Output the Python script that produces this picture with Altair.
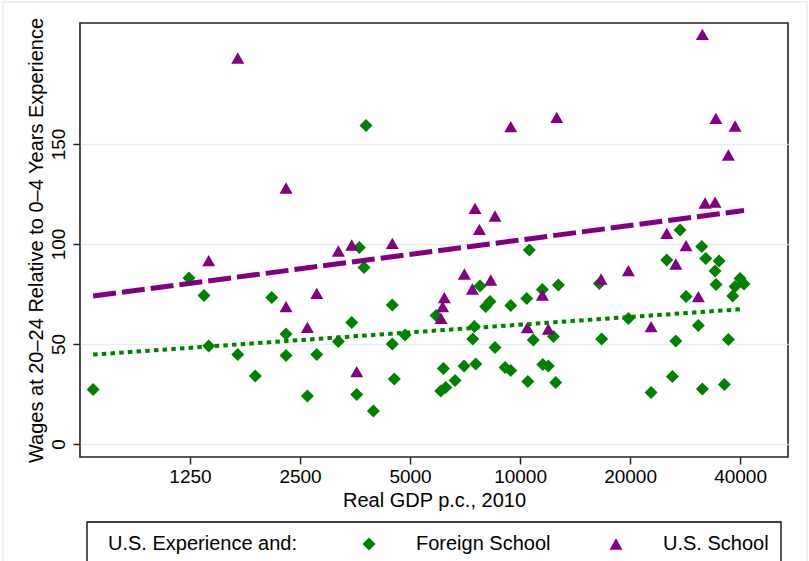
import altair as alt
import pandas as pd

# Real GDP per capita (2010) and relative wage, immigrants with foreign schooling
foreign_gdp = [679, 1242, 1365, 1406, 1689, 1886, 2092, 2289, 2289, 2619,
               2778, 3183, 3463, 3573, 3633, 3742, 3789, 3969, 4472, 4472,
               4529, 4846, 5890, 6067, 6170, 6260, 6640, 7028, 7422, 7500,
               7565, 7771, 8055, 8276, 8540, 9100, 9430, 9430, 10430, 10500,
               10600, 10870, 11510, 11540, 11950, 12340, 12520, 12730, 16480, 16720,
               19790, 22830, 25200, 26110, 26680, 27410, 28460, 30750, 31420, 31540,
               32220, 34170, 34380, 35040, 36230, 37160, 38200, 38760, 40000, 41000]
foreign_wage = [27.3, 83.0, 74.3, 49.0, 44.8, 34.0, 73.3, 55.0, 44.3, 24.0,
                44.8, 51.2, 60.7, 24.8, 98.2, 88.2, 159.3, 16.5, 69.5, 50.0,
                32.5, 54.5, 64.2, 26.5, 37.8, 28.2, 31.7, 39.0, 52.5, 58.7,
                40.0, 79.0, 68.7, 71.2, 48.3, 38.2, 36.7, 69.2, 72.8, 31.2,
                97.0, 52.0, 77.3, 39.8, 39.0, 53.7, 30.7, 79.5, 80.3, 52.5,
                62.8, 25.8, 92.0, 33.7, 51.5, 107.0, 73.7, 59.2, 98.7, 27.5,
                92.8, 86.5, 79.8, 91.5, 29.8, 52.3, 74.0, 78.7, 82.8, 80.0]

# Same measures, immigrants with U.S. schooling
us_gdp = [1406, 1689, 2289, 2289, 2619, 2778, 3183, 3463, 3573, 4472,
          6079, 6140, 6206, 7040, 7406, 7530, 7740, 8313, 8540, 9430,
          10470, 11510, 11950, 12600, 16660, 19790, 22830, 25200, 26680, 28460,
          30750, 31540, 32080, 34170, 34340, 37160, 38760]
us_wage = [91.7, 193.0, 128.0, 68.7, 58.3, 75.3, 96.5, 99.5, 36.2, 100.3,
           62.8, 68.7, 73.2, 85.0, 77.5, 117.8, 107.3, 82.0, 114.0, 158.7,
           58.2, 74.5, 57.5, 163.3, 82.5, 86.7, 58.7, 105.3, 90.0, 99.2,
           73.7, 204.8, 120.5, 120.9, 162.8, 144.5, 159.0]

# Linear fits (wage on log GDP) at the ends of the GDP range
fit_gdp = [679, 41000]
foreign_fit = [44.7, 67.5]
us_fit = [74.0, 116.7]

schools = ["Foreign School", "U.S. School"]
colors = ["#008000", "#800080"]
shapes = ["diamond", "triangle-up"]
gdp_ticks = [1250, 2500, 5000, 10000, 20000, 40000]
wage_ticks = [0, 50, 100, 150]

FONT = "Liberation Sans"

points = pd.DataFrame({
    "gdp": foreign_gdp + us_gdp,
    "wage": foreign_wage + us_wage,
    "school": [schools[0]] * len(foreign_gdp) + [schools[1]] * len(us_gdp),
})
foreign_line = pd.DataFrame({"gdp": fit_gdp, "wage": foreign_fit})
us_line = pd.DataFrame({"gdp": fit_gdp, "wage": us_fit})

x_scale = alt.Scale(type="log", base=2, domain=[625, 54100], nice=False)
y_scale = alt.Scale(domain=[-6.5, 210.5], nice=False, zero=False)

x_axis = alt.Axis(
    values=gdp_ticks, format="d", title="Real GDP p.c., 2010",
    grid=False, domain=False, tickSize=7, tickColor="#222", tickWidth=1.5,
    labelFont=FONT, labelFontSize=19, labelColor="black", labelPadding=3,
    titleFont=FONT, titleFontSize=20, titleFontWeight="normal", titleColor="black",
    titlePadding=4,
)
y_axis = alt.Axis(
    values=wage_ticks, title="Wages at 20\u201324 Relative to 0\u20134 Years Experience",
    grid=True, gridColor="#e6eef1", gridWidth=1.5, domain=False,
    tickSize=7, tickColor="#222", tickWidth=1.5,
    labelAngle=270, labelAlign="center", labelBaseline="alphabetic", labelPadding=9,
    labelFont=FONT, labelFontSize=19, labelColor="black",
    titleFont=FONT, titleFontSize=20, titleFontWeight="normal", titleColor="black",
    titleAngle=270, titleAlign="center", titleBaseline="alphabetic",
    titleX=-38, titleY=217,
)

# legend contents; its frame is drawn by the legend_frame layer below
legend = alt.Legend(
    title="U.S. Experience and:", orient="none", legendX=18, legendY=501,
    direction="horizontal", titleOrient="left", titleLimit=400,
    titleFont=FONT, titleFontSize=20, titleFontWeight="normal", titleColor="black",
    titlePadding=62, titleBaseline="middle",
    labelFont=FONT, labelFontSize=20, labelColor="black", labelOffset=37, labelLimit=300,
    columnPadding=55, symbolSize=169, symbolStrokeWidth=0, padding=10,
)

scatter = alt.Chart(points).mark_point(filled=True, size=169, opacity=1).encode(
    x=alt.X("gdp:Q", scale=x_scale, axis=x_axis),
    y=alt.Y("wage:Q", scale=y_scale, axis=y_axis),
    color=alt.Color("school:N", scale=alt.Scale(domain=schools, range=colors), legend=legend),
    shape=alt.Shape("school:N", scale=alt.Scale(domain=schools, range=shapes), legend=legend),
)

foreign_fit_line = alt.Chart(foreign_line).mark_line(
    color=colors[0], strokeWidth=4, strokeDash=[4.5, 4.2], strokeCap="butt"
).encode(x=alt.X("gdp:Q", scale=x_scale), y=alt.Y("wage:Q", scale=y_scale))

us_fit_line = alt.Chart(us_line).mark_line(
    color=colors[1], strokeWidth=5, strokeDash=[23, 6], strokeCap="butt"
).encode(x=alt.X("gdp:Q", scale=x_scale), y=alt.Y("wage:Q", scale=y_scale))

# faint outline around the whole graph region
outline = alt.Chart(alt.Data(values=[{}])).mark_rect(
    fill=None, stroke="#e6eef1", strokeWidth=1.5
).encode(x=alt.value(-77), x2=alt.value(727), y=alt.value(-21), y2=alt.value(600))

# frame around the legend
legend_frame = alt.Chart(alt.Data(values=[{}])).mark_rect(
    fill="white", stroke="black", strokeWidth=1.3
).encode(x=alt.value(7), x2=alt.value(701), y=alt.value(499), y2=alt.value(545))

chart = alt.layer(outline, legend_frame, scatter, foreign_fit_line, us_fit_line).properties(
    width=708, height=434,
    padding={"left": 80, "top": 23, "right": 21, "bottom": 104},
    autosize=alt.AutoSizeParams(type="none"),
    background="white",
).configure_view(stroke="#222", strokeWidth=1.6)

chart.save("out.html", embed_options={"renderer": "svg", "actions": False})
